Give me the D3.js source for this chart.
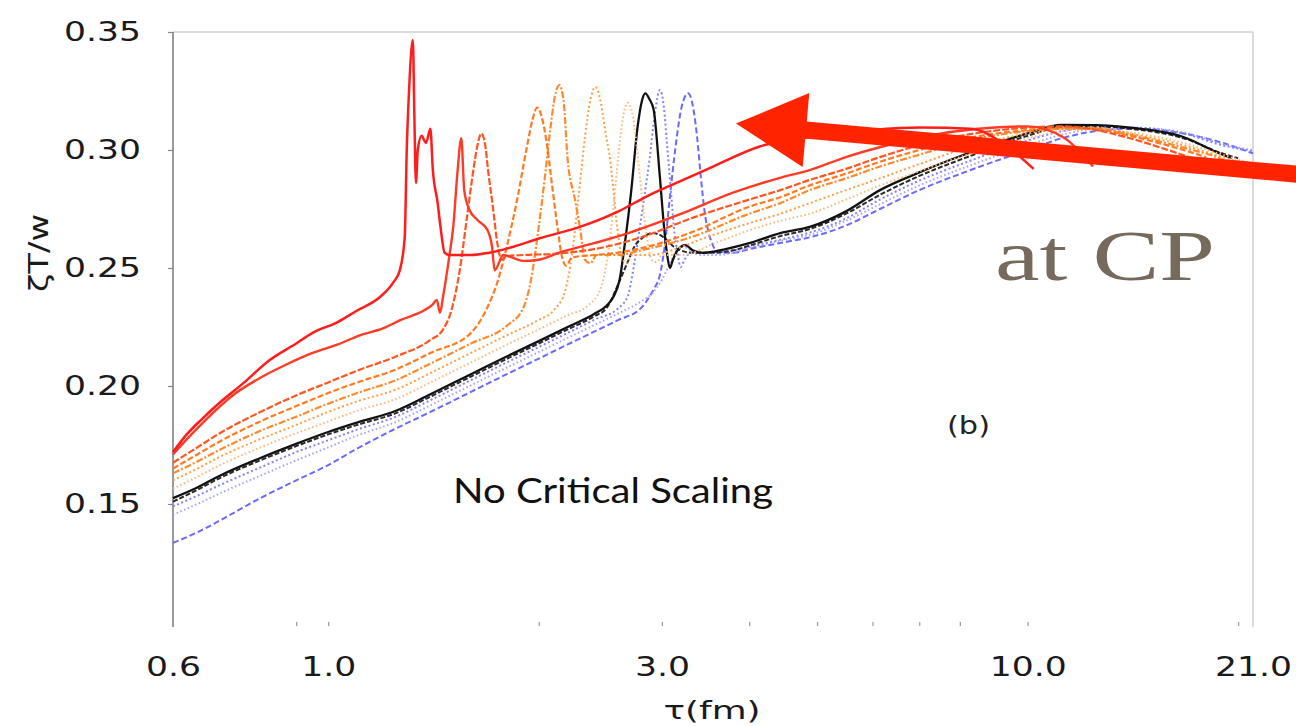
<!DOCTYPE html>
<html><head><meta charset="utf-8">
<script src="https://cdn.jsdelivr.net/npm/d3@7"></script>
<style>body{margin:0;background:#fff}svg{display:block}</style>
</head><body><svg id="c" width="1296" height="726"></svg>
<script>
// ---------- data ----------
const yTicks = [0.15, 0.20, 0.25, 0.30, 0.35];
const xLabels = [0.6, 1.0, 3.0, 10.0, 21.0];
const xMinor = [0.9, 1, 2, 3, 4, 5, 6, 7, 8, 10, 20];

const red1 = [[0.6,0.172],[0.63,0.180],[0.66,0.186],[0.70,0.193],[0.755,0.201],[0.825,0.211],[0.9,0.218],[0.95,0.2225],[1.03,0.227],[1.1,0.232],[1.186,0.2377],[1.24,0.244],[1.266,0.249],[1.2866,0.263],[1.2952,0.300],[1.305,0.325],[1.3215,0.3466],[1.328,0.315],[1.335,0.286],[1.343,0.300],[1.36,0.306],[1.38,0.303],[1.40,0.309],[1.411,0.292],[1.434,0.2775],[1.448,0.267],[1.467,0.2565],[1.49,0.2555],[1.6,0.2555],[1.7,0.2565],[1.84,0.259],[2.0,0.2625],[2.29,0.2674],[2.6,0.274],[2.86,0.2805],[3.2,0.287],[3.55,0.293],[4.14,0.3015],[4.88,0.3055],[6.0,0.3085],[7.0,0.3095],[8.3,0.309],[9.3,0.302],[10.2,0.292]];
const red2 = [[0.6,0.171],[0.64,0.180],[0.67,0.186],[0.73,0.196],[0.8,0.2035],[0.87,0.209],[0.95,0.214],[1.03,0.2175],[1.11,0.2215],[1.2,0.2245],[1.27,0.228],[1.37,0.232],[1.41,0.2345],[1.43,0.2365],[1.445,0.231],[1.46,0.238],[1.49,0.255],[1.51,0.268],[1.53,0.29],[1.55,0.305],[1.565,0.283],[1.59,0.275],[1.635,0.2703],[1.69,0.266],[1.715,0.259],[1.73,0.249],[1.78,0.2555],[1.9,0.253],[2.0,0.2535],[2.14,0.2565],[2.4,0.2605],[2.7,0.265],[3.2,0.273],[3.8,0.282],[4.4,0.288],[4.88,0.2915],[5.5,0.297],[6.3,0.302],[7.2,0.306],[8.5,0.309],[10,0.31],[11.3,0.305],[12.4,0.293]];
const orange3 = [[0.6,0.1675],[0.65,0.174],[0.7,0.180],[0.8,0.189],[0.9,0.196],[1.0,0.2015],[1.1,0.2065],[1.25,0.2125],[1.4,0.2195],[1.46,0.224],[1.5,0.232],[1.54,0.248],[1.58,0.272],[1.61,0.29],[1.635,0.302],[1.655,0.307],[1.675,0.303],[1.695,0.29],[1.72,0.2758],[1.745,0.2606],[1.77,0.2535],[1.8,0.255],[1.9,0.2555],[2.1,0.256],[2.4,0.258],[2.8,0.263],[3.3,0.271],[4.0,0.279],[4.43,0.283],[4.88,0.2873],[5.5,0.292],[6.15,0.297],[7.0,0.302],[8.2,0.3065],[10,0.3095],[11.2,0.310],[12.5,0.3085],[14,0.305],[15.5,0.301],[17,0.297]];
const orange4 = [[0.6,0.165],[0.65,0.171],[0.7,0.1765],[0.8,0.185],[0.9,0.1915],[1.0,0.197],[1.1,0.2015],[1.25,0.207],[1.4,0.214],[1.6,0.2225],[1.69,0.2335],[1.75,0.245],[1.8,0.259],[1.86,0.278],[1.92,0.300],[1.96,0.313],[1.99,0.318],[2.02,0.314],[2.05,0.3043],[2.09,0.285],[2.13,0.2661],[2.16,0.2545],[2.19,0.251],[2.23,0.2545],[2.4,0.2555],[2.6,0.2565],[2.9,0.2595],[3.3,0.265],[4.0,0.276],[4.43,0.280],[4.88,0.285],[5.5,0.290],[6.15,0.295],[7.0,0.300],[8.2,0.305],[10,0.3085],[11.2,0.3095],[12.5,0.309],[14,0.306],[16.7,0.300],[18,0.297]];
const orange5 = [[0.6,0.163],[0.65,0.168],[0.7,0.173],[0.8,0.181],[0.9,0.187],[1.0,0.1925],[1.1,0.197],[1.25,0.2025],[1.4,0.2095],[1.6,0.218],[1.8,0.2255],[1.9,0.233],[1.95,0.245],[2.0,0.2674],[2.04,0.288],[2.08,0.310],[2.11,0.323],[2.14,0.3275],[2.17,0.321],[2.2,0.2958],[2.25,0.28],[2.29,0.2674],[2.33,0.2534],[2.37,0.252],[2.42,0.2555],[2.6,0.2555],[2.8,0.2575],[3.3,0.263],[4.0,0.273],[4.43,0.2775],[4.88,0.283],[5.5,0.288],[6.15,0.293],[7.0,0.298],[8.2,0.304],[10,0.308],[11.2,0.309],[12.5,0.309],[14,0.3065],[16.7,0.301],[19,0.296],[19.5,0.2945]];
const orange6 = [[0.6,0.160],[0.65,0.165],[0.7,0.170],[0.8,0.1775],[0.9,0.1835],[1.0,0.189],[1.1,0.1935],[1.25,0.1985],[1.4,0.2055],[1.6,0.214],[1.8,0.2215],[2.0,0.228],[2.1,0.232],[2.18,0.24],[2.23,0.255],[2.28,0.28],[2.33,0.306],[2.37,0.321],[2.41,0.3267],[2.45,0.321],[2.49,0.308],[2.53,0.2958],[2.59,0.2674],[2.63,0.2545],[2.67,0.252],[2.72,0.2555],[2.9,0.2555],[3.1,0.2575],[3.4,0.262],[4.0,0.269],[4.43,0.273],[4.88,0.2775],[5.5,0.283],[6.15,0.288],[7.0,0.294],[8.2,0.301],[10,0.307],[11.2,0.309],[12.5,0.3095],[14,0.307],[16.7,0.302],[19,0.297],[20,0.295]];
const orange7 = [[0.6,0.1565],[0.65,0.1615],[0.7,0.1665],[0.8,0.174],[0.9,0.180],[1.0,0.185],[1.1,0.1895],[1.25,0.1945],[1.4,0.2015],[1.6,0.21],[1.8,0.2175],[2.0,0.224],[2.2,0.230],[2.35,0.234],[2.45,0.241],[2.5,0.252],[2.55,0.272],[2.6,0.298],[2.64,0.314],[2.68,0.320],[2.72,0.316],[2.76,0.302],[2.8,0.284],[2.85,0.265],[2.9,0.2535],[2.95,0.2525],[3.0,0.2555],[3.2,0.2555],[3.6,0.261],[4.0,0.266],[4.43,0.270],[4.88,0.273],[5.5,0.279],[6.15,0.285],[7.0,0.291],[8.2,0.298],[10,0.305],[11.2,0.308],[12.5,0.309],[14,0.3075],[16.7,0.303],[19,0.298],[20.5,0.295]];
const blackA = [[0.6,0.1525],[0.65,0.157],[0.7,0.162],[0.8,0.1695],[0.9,0.1755],[1.0,0.1805],[1.1,0.1845],[1.25,0.1895],[1.4,0.1965],[1.6,0.205],[1.8,0.2125],[2.0,0.219],[2.2,0.225],[2.4,0.2305],[2.5,0.234],[2.56,0.238],[2.61,0.245],[2.66,0.262],[2.71,0.2818],[2.77,0.31],[2.81,0.321],[2.84,0.324],[2.88,0.3215],[2.92,0.317],[2.98,0.2886],[3.02,0.268],[3.05,0.2564],[3.08,0.2500],[3.11,0.2534],[3.16,0.2576],[3.24,0.2597],[3.32,0.2575],[3.43,0.2564],[3.7,0.258],[4.0,0.2605],[4.43,0.2648],[4.88,0.2674],[5.5,0.274],[6.15,0.283],[7.0,0.2905],[8.2,0.2985],[10,0.307],[11.2,0.3106],[12.5,0.3105],[14,0.3095],[16.7,0.3055],[19,0.298],[19.6,0.2966]];
const blackB = [[0.6,0.151],[0.65,0.156],[0.7,0.161],[0.8,0.1685],[0.9,0.1745],[1.0,0.1795],[1.1,0.1835],[1.25,0.1885],[1.4,0.1955],[1.6,0.204],[1.8,0.2115],[2.0,0.218],[2.2,0.224],[2.4,0.2295],[2.5,0.233],[2.61,0.2445],[2.68,0.2525],[2.74,0.259],[2.82,0.263],[2.91,0.2648],[2.98,0.264],[3.05,0.2618],[3.12,0.259],[3.19,0.2575],[3.3,0.2565],[3.5,0.2565],[3.8,0.2575],[4.0,0.2595],[4.43,0.2635],[4.88,0.2665],[5.5,0.273],[6.15,0.281],[7.0,0.289],[8.2,0.297],[10,0.306],[11.2,0.3098],[12.5,0.310],[14,0.309],[16.7,0.305],[19,0.2985],[20,0.2965]];
const blueA = [[0.6,0.149],[0.65,0.1535],[0.7,0.158],[0.8,0.1655],[0.9,0.172],[1.0,0.177],[1.1,0.1815],[1.25,0.187],[1.4,0.194],[1.6,0.2025],[1.8,0.21],[2.0,0.2165],[2.2,0.2225],[2.4,0.228],[2.6,0.233],[2.68,0.238],[2.74,0.252],[2.79,0.2674],[2.84,0.283],[2.88,0.2958],[2.93,0.315],[2.98,0.3254],[3.02,0.318],[3.05,0.303],[3.09,0.283],[3.12,0.2674],[3.16,0.256],[3.19,0.2504],[3.23,0.2534],[3.3,0.2565],[3.5,0.2565],[3.8,0.2575],[4.0,0.259],[4.43,0.262],[4.88,0.265],[5.5,0.271],[6.15,0.279],[7.0,0.287],[8.2,0.295],[10,0.304],[11.2,0.308],[12.5,0.3095],[14,0.3095],[16.7,0.307],[19,0.302],[21,0.2995]];
const blueB = [[0.6,0.1455],[0.65,0.150],[0.7,0.1545],[0.8,0.162],[0.9,0.1685],[1.0,0.174],[1.1,0.179],[1.25,0.1848],[1.4,0.1918],[1.6,0.2003],[1.8,0.2078],[2.0,0.2144],[2.2,0.2204],[2.4,0.2258],[2.6,0.2308],[2.8,0.2358],[2.9,0.239],[3.0,0.245],[3.08,0.252],[3.15,0.2575],[3.22,0.259],[3.3,0.2575],[3.4,0.2555],[3.6,0.2555],[3.8,0.2565],[4.0,0.2585],[4.43,0.2615],[4.88,0.264],[5.5,0.270],[6.15,0.277],[7.0,0.285],[8.2,0.293],[10,0.302],[11.2,0.3065],[12.5,0.309],[14,0.3095],[16.7,0.3075],[19,0.3025],[21,0.300]];
const blue3 = [[0.6,0.1335],[0.65,0.138],[0.7,0.143],[0.8,0.1525],[0.9,0.160],[1.0,0.1665],[1.1,0.1735],[1.25,0.182],[1.4,0.189],[1.6,0.1975],[1.8,0.205],[2.0,0.2116],[2.2,0.2176],[2.4,0.223],[2.6,0.228],[2.8,0.233],[2.86,0.2365],[2.92,0.241],[2.98,0.247],[3.03,0.26],[3.08,0.28],[3.14,0.302],[3.2,0.318],[3.27,0.324],[3.32,0.319],[3.37,0.305],[3.41,0.2886],[3.46,0.272],[3.5,0.2648],[3.55,0.2595],[3.6,0.2565],[3.8,0.2565],[4.0,0.258],[4.43,0.2606],[4.88,0.263],[5.5,0.268],[6.15,0.275],[7.0,0.283],[8.2,0.291],[10,0.300],[11.2,0.305],[12.5,0.308],[14,0.309],[16.7,0.307],[19,0.303],[21,0.2985]];

// ---------- chart ----------
const svg = d3.select("#c");
svg.append("rect").attr("width",1296).attr("height",726).attr("fill","#fff");
const x = d3.scaleLog().domain([0.6, 21]).range([173, 1253]);
const y = d3.scaleLinear().domain([0.10, 0.35]).range([622, 32]);
const SX = 1.33;
function stretch(sel, k){ sel.each(function(){ const w=this.getComputedTextLength(); d3.select(this).attr("textLength", w*k).attr("lengthAdjust","spacingAndGlyphs"); }); }

// frame
svg.append("line").attr("x1",x(0.6)).attr("x2",x(21)).attr("y1",y(0.35)).attr("y2",y(0.35)).attr("stroke","#cfcfcf").attr("stroke-width",1.5);
svg.append("line").attr("x1",x(21)).attr("x2",x(21)).attr("y1",y(0.35)).attr("y2",y(0.10)+5).attr("stroke","#cfcfcf").attr("stroke-width",1.5);

const gy = svg.append("g").attr("transform",`translate(${x(0.6)},0)`)
  .call(d3.axisLeft(y).tickValues(yTicks).tickSize(5).tickSizeOuter(0).tickPadding(27).tickFormat(d3.format(".2f")));
gy.select(".domain").remove();
gy.selectAll(".tick line").attr("stroke","#888").attr("stroke-width",1.2);
gy.selectAll("text").attr("font-family","DejaVu Sans").attr("font-size",26).attr("fill","#1a1a1a");
stretch(gy.selectAll("text"), SX);
svg.append("line").attr("x1",x(0.6)).attr("x2",x(0.6)).attr("y1",y(0.35)).attr("y2",y(0.10)+5).attr("stroke","#808080").attr("stroke-width",1.6);

const gm = svg.append("g").attr("transform",`translate(0,${y(0.10)})`)
  .call(d3.axisBottom(x).tickValues(xMinor).tickSize(4).tickFormat(""));
gm.select(".domain").remove();
gm.selectAll(".tick line").attr("stroke","#999").attr("stroke-width",1.2);

const gx = svg.append("g").attr("transform",`translate(0,667)`)
  .call(d3.axisBottom(x).tickValues(xLabels).tickSize(0).tickPadding(0).tickFormat(d3.format(".1f")));
gx.select(".domain").remove();
gx.selectAll("text").attr("dy","0.36em").attr("font-family","DejaVu Sans").attr("font-size",26).attr("fill","#1a1a1a");
stretch(gx.selectAll("text"), SX);

// curves
const line = d3.line().x(d=>x(d[0])).y(d=>y(d[1])).curve(d3.curveMonotoneX);
const series = [
  {d:blue3,  c:"#6a6aff", w:2.0, dash:"6,3"},
  {d:blueB,  c:"#a3a3ff", w:2.0, dash:"1.5,2.5"},
  {d:blueA,  c:"#8383ff", w:2.0, dash:"2,2.5"},
  {d:blackB, c:"#2a2a2a", w:2.0, dash:"5,2"},
  {d:blackA, c:"#111111", w:2.3, dash:null},
  {d:orange7,c:"#ffb578", w:2.0, dash:"1.5,2.5"},
  {d:orange6,c:"#ff9e48", w:2.0, dash:"2,2.5"},
  {d:orange5,c:"#ff8a2c", w:2.2, dash:"7,2,2,2"},
  {d:orange4,c:"#ff7a22", w:2.2, dash:"6,2.5"},
  {d:orange3,c:"#ff5520", w:2.2, dash:"7,2"},
  {d:red2,   c:"#ff3b26", w:2.4, dash:null},
  {d:red1,   c:"#ff1c1c", w:2.5, dash:null}
];
svg.append("g").selectAll("path").data(series).join("path")
  .attr("d", s=>line(s.d)).attr("fill","none").attr("stroke", s=>s.c)
  .attr("stroke-width", s=>s.w).attr("stroke-dasharray", s=>s.dash)
  .attr("stroke-linejoin","round");

// texts
const t1 = svg.append("text").attr("x",453).attr("y",503).attr("font-family","Lato").attr("font-size",34).attr("fill","#111").text("No Critical Scaling");
t1.attr("textLength",320).attr("lengthAdjust","spacingAndGlyphs");
const t2 = svg.append("text").attr("x",947).attr("y",434).attr("font-family","DejaVu Sans").attr("font-size",25).attr("fill","#222").text("(b)");
t2.attr("textLength",43).attr("lengthAdjust","spacingAndGlyphs");
const t3 = svg.append("text").attr("x",712).attr("y",719).attr("text-anchor","middle").attr("font-family","DejaVu Sans").attr("font-size",25).attr("fill","#1a1a1a").text("τ(fm)");
t3.attr("textLength",97).attr("lengthAdjust","spacingAndGlyphs");
const t4 = svg.append("text").attr("transform","translate(48,253) rotate(-90)").attr("text-anchor","middle").attr("font-family","DejaVu Sans").attr("font-size",27).attr("fill","#1a1a1a").text("ζT/w");
t4.attr("textLength",78).attr("lengthAdjust","spacingAndGlyphs");
const t5 = svg.append("text").attr("x",995).attr("y",280).attr("font-family","Liberation Serif").attr("font-size",72).attr("fill","#766a5d").text("at CP");
t5.attr("textLength",220).attr("lengthAdjust","spacingAndGlyphs");

// arrow
const arrowColor = "#ff2400";
svg.append("line").attr("x1",800).attr("y1",129.5).attr("x2",1300).attr("y2",174.5).attr("stroke",arrowColor).attr("stroke-width",17);
svg.append("polygon").attr("points","736,123.5 809.3,93.1 802.7,166.9").attr("fill",arrowColor);
</script></body></html>
